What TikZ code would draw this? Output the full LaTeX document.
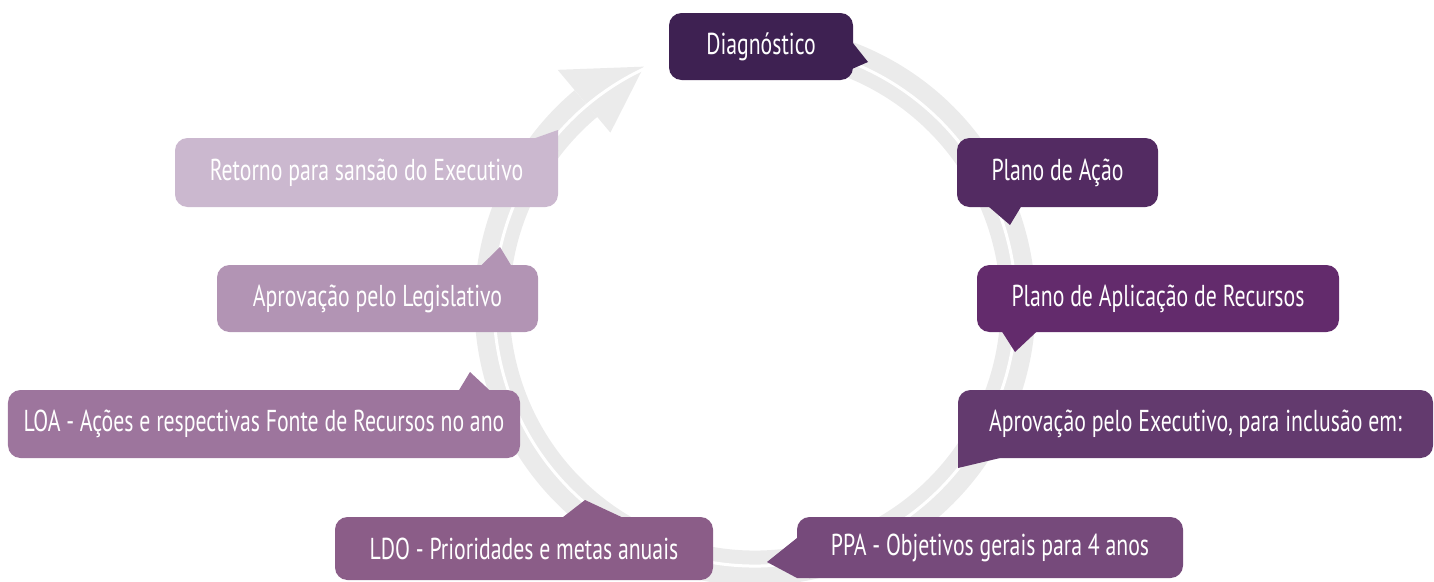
\documentclass[tikz,border=0pt]{standalone}
\usepackage{fontspec}
\setmainfont{PT Sans}[FakeStretch=0.72]
\usetikzlibrary{calc}

\definecolor{anel}{RGB}{235,235,235}
\definecolor{corDiag}{RGB}{62,33,82}
\definecolor{corAcao}{RGB}{83,43,98}
\definecolor{corAplic}{RGB}{99,43,108}
\definecolor{corExec}{RGB}{99,58,110}
\definecolor{corPPA}{RGB}{118,74,123}
\definecolor{corLDO}{RGB}{139,93,136}
\definecolor{corLOA}{RGB}{157,117,157}
\definecolor{corLegis}{RGB}{178,148,180}
\definecolor{corRetorno}{RGB}{203,184,207}

\begin{document}
\begin{tikzpicture}[
  etapa/.style={fill=#1, rounded corners=0.25cm, text=white, inner sep=0pt,
    font=\fontsize{17.2}{20}\selectfont}
]
  \useasboundingbox (0,0) rectangle (28.68,11.62);
  \def\rMid{5.26}
  \coordinate (centro) at (15.1,5.52);

  \draw[line width=0.7cm, anel] ($(centro)+(105:\rMid)$) arc (105:-230:\rMid);
  \fill[anel] ($(centro)+(130:6.14)$) -- ($(centro)+(115:\rMid)$)
    -- ($(centro)+(130:4.5)$) -- cycle;
  \draw[line width=0.06cm, white] ($(centro)+(105:5.22)$) arc (105:-245:5.22);

  \node[etapa=corDiag, minimum width=3.68cm, minimum height=1.34cm] (diag) at (15.22,10.69) {Diagnóstico};
  \fill[corDiag] (16.9,10.96) -- (17.36,10.38) -- (16.9,10.18) -- cycle;

  \node[etapa=corAcao, minimum width=4.02cm, minimum height=1.38cm] (acao) at (21.15,8.17) {Plano de Ação};
  \fill[corAcao] (19.7,7.55) -- (20.2,7.12) -- (20.46,7.55) -- cycle;

  \node[etapa=corAplic, minimum width=7.24cm, minimum height=1.34cm] (aplic) at (23.16,5.65) {Plano de Aplicação de Recursos};
  \fill[corAplic] (20.0,5.05) -- (20.3,4.58) -- (20.8,5.05) -- cycle;

  \node[etapa=corExec, minimum width=9.5cm, minimum height=1.36cm] (exec) at (23.91,3.14) {Aprovação pelo Executivo, para inclusão em:};
  \fill[corExec] (19.16,2.9) -- (19.16,2.26) -- (20.0,2.46) -- (20.0,2.9) -- cycle;

  \node[etapa=corPPA, minimum width=7.72cm, minimum height=1.22cm] (ppa) at (19.8,0.67) {PPA - Objetivos gerais para 4 anos};
  \fill[corPPA] (16.2,0.86) -- (15.94,0.86) -- (15.34,0.38) -- (15.94,0.06) -- (16.2,0.06) -- cycle;

  \node[etapa=corLDO, minimum width=7.56cm, minimum height=1.26cm] (ldo) at (10.48,0.65) {LDO - Prioridades e metas anuais};
  \fill[corLDO] (11.16,1.2) -- (11.7,1.62) -- (12.6,1.2) -- cycle;

  \node[etapa=corLOA, minimum width=10.24cm, minimum height=1.36cm] (loa) at (5.28,3.14) {LOA - Ações e respectivas Fonte de Recursos no ano};
  \fill[corLOA] (9.14,3.75) -- (9.4,4.18) -- (9.86,3.75) -- cycle;

  \node[etapa=corLegis, minimum width=6.42cm, minimum height=1.34cm] (legis) at (7.55,5.65) {Aprovação pelo Legislativo};
  \fill[corLegis] (9.56,6.25) -- (10.0,6.68) -- (10.26,6.25) -- cycle;

  \node[etapa=corRetorno, minimum width=7.66cm, minimum height=1.38cm] (retorno) at (7.33,8.17) {Retorno para sansão do Executivo};
  \fill[corRetorno] (10.54,8.8) -- (11.16,9.02) -- (11.16,8.6) -- (10.54,8.6) -- cycle;

\end{tikzpicture}
\end{document}
